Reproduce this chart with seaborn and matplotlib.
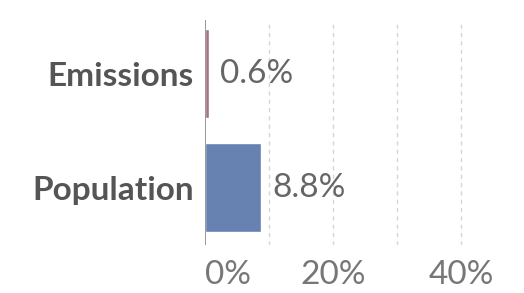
import matplotlib
matplotlib.use("Agg")
import matplotlib.pyplot as plt
import seaborn as sns
import pandas as pd

categories = ["Emissions", "Population"]
values = [0.6, 8.8]
bar_colors = ["#a3737e", "#6781b0"]
tick_values = [0, 20, 40]
tick_labels = ["0%", "20%", "40%"]
grid_values = [10, 20, 30, 40]

sns.set_theme(style="white")
plt.rcParams['font.family'] = ['Lato', 'DejaVu Sans']

df = pd.DataFrame({"category": categories, "value": values})

fig = plt.figure(figsize=(5.24, 2.93), dpi=100)
ax = fig.add_axes([0.391, 0.164, 0.611, 0.768])

sns.barplot(data=df, x="value", y="category", hue="category",
            palette=bar_colors, width=0.78, orient="h", legend=False,
            saturation=1, ax=ax)

ax.set_xlim(0, 50)
ax.set_ylim(1.5, -0.47)

# dashed grid
for g in grid_values:
    ax.axvline(g, color="#d6d6d6", linestyle=(0, (3, 3)), linewidth=1, zorder=0)
ax.axvline(0, color="#888888", linewidth=1.2, zorder=3)

for i, v in enumerate(values):
    ax.text(v + 1.7, i, f"{v}%", va="center", ha="left",
            fontsize=24, color="#666666")

ax.set_xticks(tick_values)
ax.set_xticklabels(tick_labels, fontsize=24, color="#777777")
ax.get_xticklabels()[0].set_horizontalalignment("left")
ax.tick_params(axis="x", length=0, pad=11)
ax.tick_params(axis="y", length=0, pad=8)
for lab in ax.get_yticklabels():
    lab.set_fontsize(24)
    lab.set_fontweight("bold")
    lab.set_color("#555555")

ax.set_xlabel("")
ax.set_ylabel("")
for s in ax.spines.values():
    s.set_visible(False)

fig.savefig("out.png", dpi=100)
